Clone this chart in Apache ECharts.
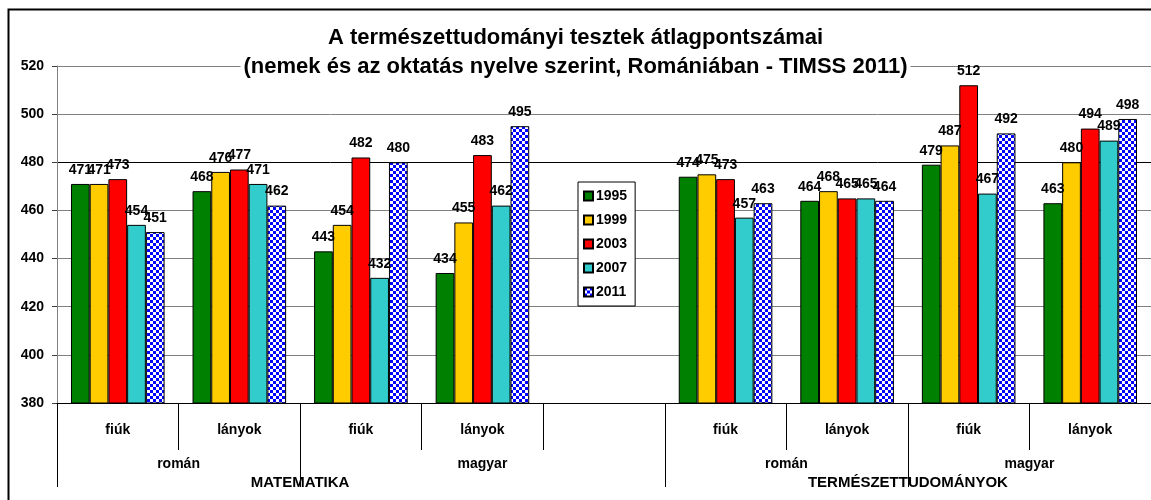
<!DOCTYPE html>
<html>
<head>
<meta charset="utf-8">
<script src="https://cdn.jsdelivr.net/npm/echarts@6/dist/echarts.min.js"></script>
<style>
  html, body { margin: 0; padding: 0; background: #fff; }
  #chart { width: 1151px; height: 500px; }
</style>
</head>
<body>
<div id="chart"></div>
<script>
// ---- data ----
const categories = ['fiúk', 'lányok', 'fiúk', 'lányok', '', 'fiúk', 'lányok', 'fiúk', 'lányok'];
const years = ['1995', '1999', '2003', '2007', '2011'];
const s1995 = [471, 468, 443, 434, '-', 474, 464, 479, 463];
const s1999 = [471, 476, 454, 455, '-', 475, 468, 487, 480];
const s2003 = [473, 477, 482, 483, '-', 473, 465, 512, 494];
const s2007 = [454, 471, 432, 462, '-', 457, 465, 467, 489];
const s2011 = [451, 462, 480, 495, '-', 463, 464, 492, 498];
const level2 = [['román', 2], ['magyar', 3], ['román', 2], ['magyar', 2]];
const level3 = [['MATEMATIKA', 4], ['', 1], ['TERMÉSZETTUDOMÁNYOK', 4]];
const yTicks = [380, 400, 420, 440, 460, 480, 500, 520];
const titleLines = ['A természettudományi tesztek átlagpontszámai',
                    '(nemek és az oktatás nyelve szerint, Romániában - TIMSS 2011)'];

// ---- helpers ----
function groupInfo(groups) {
  let start = 0; const centers = []; const bounds = []; const map = {};
  groups.forEach(([name, span]) => {
    bounds.push(start);
    const c = start + span / 2;
    if (name) { centers.push(c); map[c] = name; }
    start += span;
  });
  return { centers, bounds, map };
}
const g2 = groupInfo(level2);
const g3 = groupInfo(level3);

const checker = document.createElement('canvas');
checker.width = 6; checker.height = 6;
(function () {
  const c = checker.getContext('2d');
  c.fillStyle = '#ffffff'; c.fillRect(0, 0, 6, 6);
  c.fillStyle = '#0000ff'; c.fillRect(0, 0, 3, 3); c.fillRect(3, 3, 3, 3);
})();

const seriesData = [s1995, s1999, s2003, s2007, s2011];
const colors = ['#008000', '#ffcc00', '#ff0000', '#33cccc', { image: checker, repeat: 'repeat' }];
const FONT = '"Liberation Sans", Arial, sans-serif';

const chart = echarts.init(document.getElementById('chart'), null, { renderer: 'canvas' });
const option = {
  animation: false,
  backgroundColor: '#fff',
  textStyle: { fontFamily: FONT },
  title: {
    text: titleLines.join('\n'),
    left: 'center',
    top: 23,
    padding: [0, 3],
    backgroundColor: '#fff',
    textStyle: { fontFamily: FONT, fontSize: 22, fontWeight: 'bold', color: '#000', lineHeight: 29 },
    z: 10
  },
  graphic: [{
    type: 'rect', left: 6, top: 7, silent: true,
    shape: { width: 1160, height: 510 },
    style: { fill: 'none', stroke: '#000', lineWidth: 2 }, z: 100
  }],
  legend: {
    orient: 'vertical',
    left: 578, top: 182,
    data: years,
    backgroundColor: '#fff',
    borderColor: '#000', borderWidth: 1,
    padding: [7, 8, 7, 5],
    itemWidth: 9, itemHeight: 9, itemGap: 10,
    icon: 'rect',
    textStyle: { fontFamily: FONT, fontSize: 14, fontWeight: 'bold', color: '#000', padding: [0, 0, 0, -2] },
    z: 20
  },
  grid: { left: 57, right: -1, top: 66, bottom: 97, containLabel: false },
  xAxis: [
    {
      type: 'category', data: categories, position: 'bottom',
      axisLine: { lineStyle: { color: '#000', width: 1 } },
      axisTick: { show: true, interval: 0, length: 47, lineStyle: { color: '#000' } },
      axisLabel: { interval: 0, margin: 20, fontFamily: FONT, fontSize: 14, fontWeight: 'bold', color: '#000' },
      z: 5
    },
    {
      type: 'value', min: 0, max: 9, position: 'bottom',
      axisLine: { show: false }, splitLine: { show: false },
      axisTick: { show: true, customValues: g2.bounds, length: 84, lineStyle: { color: '#000' } },
      axisLabel: { customValues: g2.centers, margin: 54, formatter: v => g2.map[v] || '',
        fontFamily: FONT, fontSize: 14, fontWeight: 'bold', color: '#000' }
    },
    {
      type: 'value', min: 0, max: 9, position: 'bottom',
      axisLine: { show: false }, splitLine: { show: false }, axisTick: { show: false },
      axisLabel: { customValues: g3.centers, margin: 72, formatter: v => g3.map[v] || '',
        fontFamily: FONT, fontSize: 15, fontWeight: 'bold', color: '#000' }
    }
  ],
  yAxis: {
    type: 'value', min: yTicks[0], max: yTicks[yTicks.length - 1], interval: 20,
    axisLine: { show: true, lineStyle: { color: '#808080' } },
    axisTick: { show: true, length: 5, lineStyle: { color: '#404040' } },
    axisLabel: { margin: 13, fontFamily: FONT, fontSize: 14, fontWeight: 'bold', color: '#000' },
    splitLine: { show: true, lineStyle: { width: 1,
      color: ['#000', '#808080', '#808080', '#808080', '#808080', '#000', '#808080', '#808080'] } }
  },
  series: years.map((y, i) => ({
    name: y, type: 'bar', xAxisIndex: 0, data: seriesData[i],
    barGap: 0, barCategoryGap: '23%',
    itemStyle: { color: colors[i], borderColor: '#000', borderWidth: 1 },
    label: { show: true, position: 'top', distance: 7, fontFamily: FONT, fontSize: 14,
      fontWeight: 'bold', color: '#000' }
  }))
};
chart.setOption(option);
</script>
</body>
</html>
